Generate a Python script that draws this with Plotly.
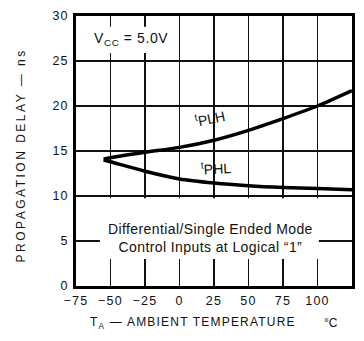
import plotly.graph_objects as go

# Ambient temperature (°C) and propagation delays (ns)
temperature = [-55, -50, -25, 0, 25, 50, 75, 100, 125]
t_plh = [14.1, 14.25, 14.85, 15.4, 16.2, 17.3, 18.6, 20.0, 21.7]
t_phl = [14.0, 13.8, 12.75, 11.9, 11.45, 11.15, 10.95, 10.82, 10.7]

x_tickvals = [-75, -50, -25, 0, 25, 50, 75, 100, 125]
x_ticktext = ["\u221275", "\u221250", "\u221225", "0", "25", "50", "75", "100", "125"]
y_tickvals = [0, 5, 10, 15, 20, 25, 30]
y_ticktext = ["0", "5", "10", "15", "20", "25", "30"]

FONT = "Liberation Sans, Arial, Helvetica, sans-serif"


def spaced(text, px):
    return f'<span style="letter-spacing:{px}px">{text}</span>'


fig = go.Figure()
for values in (t_plh, t_phl):
    fig.add_trace(go.Scatter(
        x=temperature, y=values, mode="lines",
        line=dict(color="black", width=3.5, shape="spline", smoothing=0.8),
        hoverinfo="skip", showlegend=False,
    ))

axis_common = dict(
    showline=True, mirror=True, linewidth=3, linecolor="black",
    showgrid=True, gridcolor="#111", gridwidth=1.2,
    zeroline=False, ticks="", fixedrange=True,
    tickfont=dict(family=FONT, size=12.5, color="#111"),
)

fig.update_xaxes(
    range=[-75, 125], tickmode="array", tickvals=x_tickvals,
    ticktext=[spaced(t, 1.2) for t in x_ticktext],
    ticklabelstandoff=1, **axis_common,
)
fig.update_yaxes(
    range=[0, 30], tickmode="array", tickvals=y_tickvals,
    ticktext=[spaced(t, 1.0) for t in y_ticktext],
    ticklabelstandoff=2, **axis_common,
)

# white panels behind the in-plot captions
fig.add_shape(type="rect", x0=-69, x1=-3, y0=25.9, y1=28.8,
              fillcolor="white", line=dict(width=0), layer="above")
fig.add_shape(type="rect", x0=-57.7, x1=101, y0=3.0, y1=9.75,
              fillcolor="white", line=dict(width=0), layer="above")

ann_font = dict(family=FONT, color="#111")
fig.add_annotation(x=-35.3, y=27.4, xref="x", yref="y", showarrow=False,
                   text=spaced("V<sub>CC</sub> = 5.0V", 0.6),
                   font=dict(size=14, **ann_font))
fig.add_annotation(x=22.8, y=5.3, xref="x", yref="y", showarrow=False,
                   text=spaced("Differential/Single Ended Mode", 0.4) + "<br>" +
                   spaced("Control Inputs at Logical \u201c1\u201d", 0.4),
                   font=dict(size=14, **ann_font))
fig.add_annotation(x=21.75, y=18.63, xref="x", yref="y", showarrow=False,
                   text="<sup>t</sup>PLH", textangle=-12,
                   font=dict(size=14, **ann_font))
fig.add_annotation(x=26.1, y=13.1, xref="x", yref="y", showarrow=False,
                   text="<sup>t</sup>PHL", textangle=-3,
                   font=dict(size=14, **ann_font))

# axis titles
fig.add_annotation(x=-0.199, y=0.484, xref="paper", yref="paper", showarrow=False,
                   xanchor="center", yanchor="middle",
                   text=spaced("PROPAGATION DELAY \u2014 ns", 2.5), textangle=-90,
                   font=dict(size=12, **ann_font))
fig.add_annotation(x=0.424, y=-0.137, xref="paper", yref="paper", showarrow=False,
                   xanchor="center", yanchor="middle",
                   text=spaced("T<sub>A</sub> \u2014 AMBIENT TEMPERATURE", 1.2),
                   font=dict(size=12, **ann_font))
fig.add_annotation(x=0.924, y=-0.137, xref="paper", yref="paper", showarrow=False,
                   xanchor="center", yanchor="middle",
                   text="\u00b0C", font=dict(size=12, **ann_font))

fig.update_layout(
    width=364, height=341, autosize=False,
    margin=dict(l=76, r=11, t=9, b=55),
    paper_bgcolor="white", plot_bgcolor="white",
    font=dict(family=FONT, color="#111"),
    hovermode=False,
)

fig.write_html("out.html", config={"displayModeBar": False, "staticPlot": True})
